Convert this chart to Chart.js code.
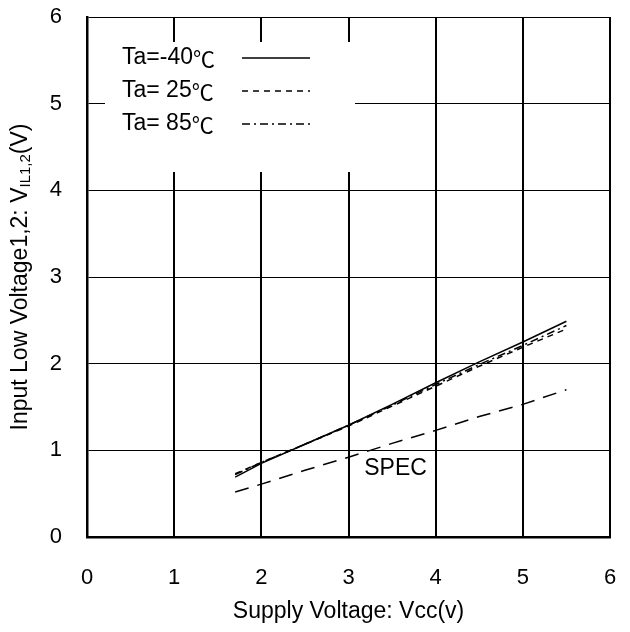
<!DOCTYPE html>
<html>
<head>
<meta charset="utf-8">
<script src="https://cdn.jsdelivr.net/npm/chart.js@4"></script>
<style>
  html, body { margin: 0; padding: 0; background: #fff; }
  #wrap { width: 630px; height: 632px; }
</style>
</head>
<body>
<div id="wrap"><canvas id="vil-chart"></canvas></div>
<script>
const vcc = [1.7, 2, 2.5, 3, 3.5, 4, 4.5, 5, 5.5];
const vilMinus40 = [0.69, 0.85, 1.07, 1.29, 1.53, 1.78, 2.02, 2.25, 2.49];
const vil25 = [0.73, 0.86, 1.07, 1.28, 1.51, 1.74, 1.97, 2.19, 2.40];
const vil85 = [0.72, 0.86, 1.07, 1.29, 1.52, 1.76, 1.99, 2.21, 2.44];
const vilSpec = [0.52, 0.61, 0.77, 0.92, 1.08, 1.23, 1.39, 1.53, 1.70];
const legendLabels = ['Ta=-40', 'Ta= 25', 'Ta= 85'];
const tickValues = [0, 1, 2, 3, 4, 5, 6];

const FONT = '"Liberation Sans", Arial, sans-serif';
const CJK = '"Noto Sans CJK JP", sans-serif';

function pts(ys) {
    return vcc.map((x, i) => ({ x: x, y: ys[i] }));
}

// drop the extra room chart.js keeps for the end tick labels
function noPad(s) {
    s.paddingTop = 0;
    s.paddingBottom = 0;
    s.paddingLeft = 0;
    s.paddingRight = 0;
}

// white legend box drawn over the grid, plus titles and the SPEC note
const annotations = {
    id: 'annotations',
    beforeDatasetsDraw(chart) {
        const ctx = chart.ctx;
        const area = chart.chartArea;
        ctx.save();
        ctx.fillStyle = '#fff';
        ctx.fillRect(area.left + 18, area.top + 25, 250, 130);
        ctx.fillStyle = '#000';
        ctx.textBaseline = 'middle';
        const sets = chart.data.datasets.slice(0, 3);
        sets.forEach((ds, i) => {
            const y = area.top + 41 + i * 33;
            ctx.font = '23px ' + FONT;
            ctx.fillText(legendLabels[i], area.left + 35, y);
            const w = ctx.measureText(legendLabels[i]).width;
            ctx.font = '22px ' + CJK;
            ctx.fillText('\u2103', area.left + 35 + w, y + 1);
            ctx.beginPath();
            ctx.setLineDash(ds.borderDash || []);
            ctx.lineWidth = 1.5;
            ctx.strokeStyle = '#000';
            ctx.moveTo(area.left + 155, y);
            ctx.lineTo(area.left + 223, y);
            ctx.stroke();
        });
        ctx.restore();
    },
    afterDraw(chart) {
        const ctx = chart.ctx;
        const area = chart.chartArea;
        const xs = chart.scales.x;
        const ys = chart.scales.y;
        ctx.save();
        ctx.fillStyle = '#000';
        ctx.font = '23px ' + FONT;
        ctx.textBaseline = 'middle';
        ctx.textAlign = 'center';
        ctx.fillText('SPEC', xs.getPixelForValue(3.54), ys.getPixelForValue(0.79));

        ctx.fillText('Supply Voltage: Vcc(v)', (area.left + area.right) / 2, 612);

        // y title with subscript
        ctx.translate(21, (area.top + area.bottom) / 2);
        ctx.rotate(-Math.PI / 2);
        const main = 'Input Low Voltage1,2: V';
        const sub = 'IL1,2';
        const tail = '(V)';
        ctx.font = '23px ' + FONT;
        const wMain = ctx.measureText(main).width;
        const wTail = ctx.measureText(tail).width;
        ctx.font = '15px ' + FONT;
        const wSub = ctx.measureText(sub).width;
        let x = -(wMain + wSub + wTail) / 2;
        ctx.textAlign = 'left';
        ctx.font = '23px ' + FONT;
        ctx.fillText(main, x, 0);
        x += wMain;
        ctx.font = '15px ' + FONT;
        ctx.fillText(sub, x, 5);
        x += wSub;
        ctx.font = '23px ' + FONT;
        ctx.fillText(tail, x, 0);
        ctx.restore();
    }
};

new Chart(document.getElementById('vil-chart'), {
    type: 'scatter',
    data: {
        datasets: [
            { label: 'Ta=-40', data: pts(vilMinus40), borderDash: [] },
            { label: 'Ta=25', data: pts(vil25), borderDash: [6, 5] },
            { label: 'Ta=85', data: pts(vil85), borderDash: [8, 4, 2, 4] },
            { label: 'SPEC', data: pts(vilSpec), borderDash: [14, 9] }
        ].map(ds => Object.assign(ds, {
            showLine: true,
            borderColor: '#000',
            borderWidth: 1.5,
            pointRadius: 0,
            tension: 0,
            fill: false
        }))
    },
    options: {
        responsive: true,
        maintainAspectRatio: false,
        animation: false,
        devicePixelRatio: 1,
        layout: { padding: { left: 0, top: 17, right: 20, bottom: 0 } },
        plugins: {
            legend: { display: false },
            tooltip: { enabled: false }
        },
        scales: {
            x: {
                type: 'linear',
                min: 0,
                max: 6,
                afterBuildTicks: s => { s.ticks = tickValues.map(v => ({ value: v })); },
                afterFit: s => { s.height = 95; noPad(s); },
                ticks: { color: '#000', padding: 28, font: { size: 22, family: FONT } },
                grid: { color: '#000', lineWidth: 2, drawTicks: false },
                border: { color: '#000', width: 2.5 }
            },
            y: {
                type: 'linear',
                min: 0,
                max: 6,
                afterBuildTicks: s => { s.ticks = tickValues.map(v => ({ value: v })); },
                afterFit: s => { s.width = 87; noPad(s); },
                ticks: { color: '#000', padding: 25, font: { size: 22, family: FONT } },
                grid: { color: '#000', lineWidth: 1, drawTicks: false },
                border: { color: '#000', width: 2.5 }
            }
        }
    },
    plugins: [annotations]
});
</script>
</body>
</html>
